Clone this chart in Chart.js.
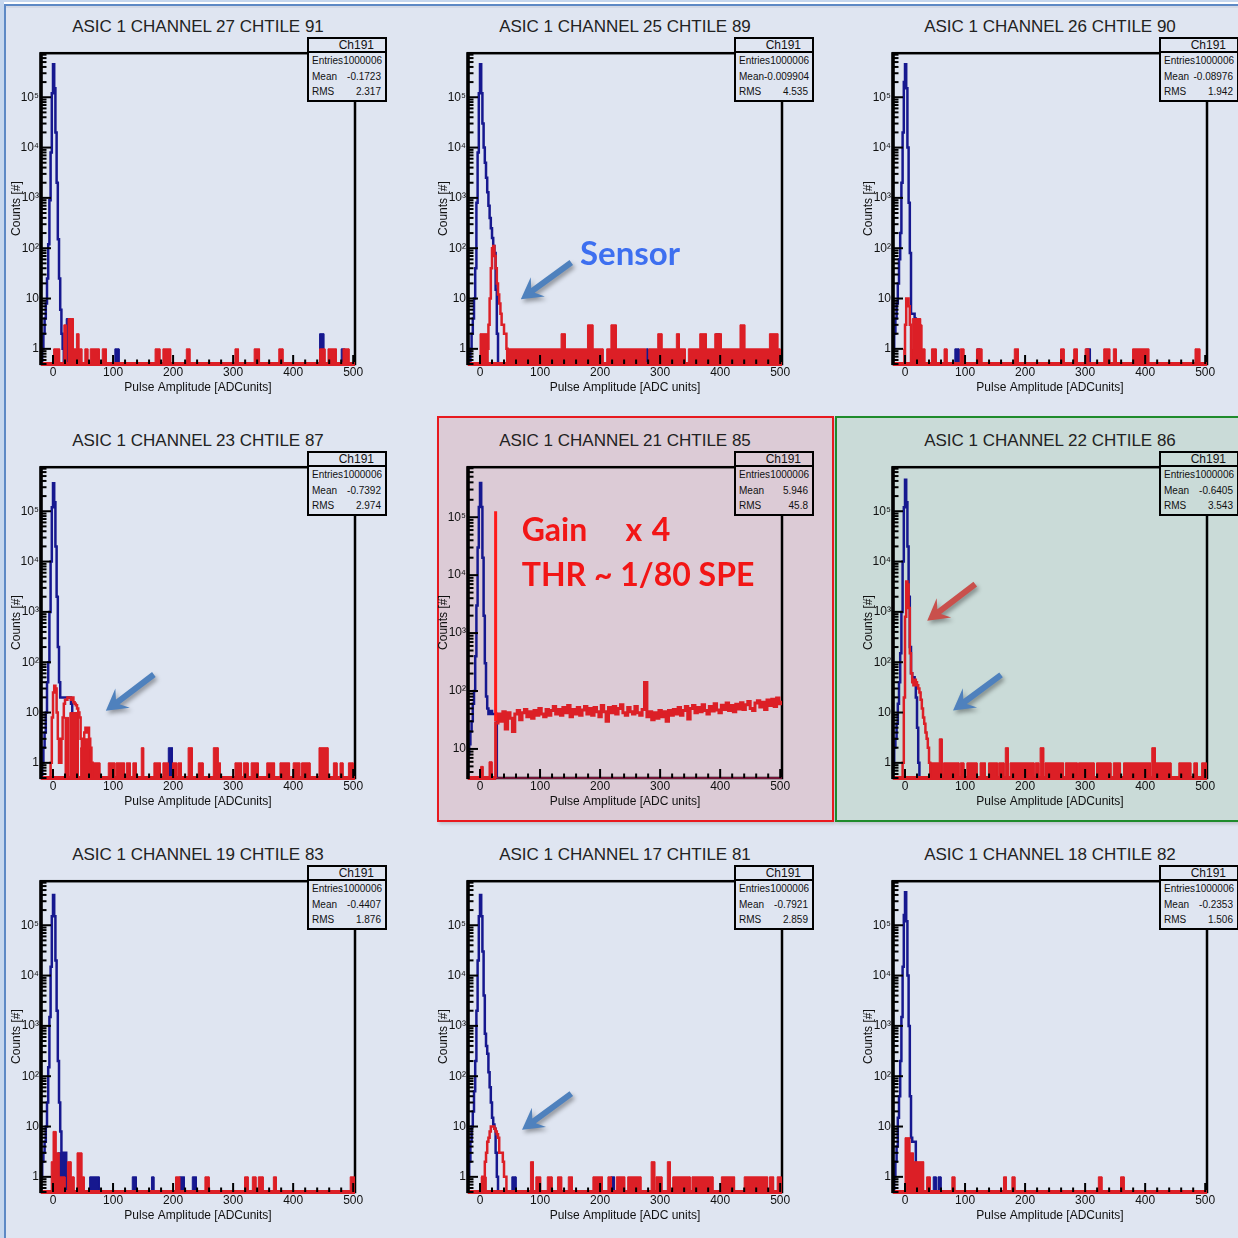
<!DOCTYPE html>
<html><head><meta charset="utf-8">
<script src="https://cdn.jsdelivr.net/npm/chart.js@4/dist/chart.umd.min.js"></script>
<style>
html,body{margin:0;padding:0}
body{width:1238px;height:1238px;position:relative;overflow:hidden;background:#dfe5f1;font-family:"Liberation Sans",Arial,Helvetica,sans-serif;color:#111}
.a{position:absolute}
.ptitle{position:absolute;font-size:17px;line-height:17px;white-space:nowrap;text-align:center;color:#222;width:360px}
.stat{position:absolute;box-sizing:border-box;border:2px solid #000;width:80px;height:65px}
.stat .hd{position:absolute;left:0;right:0;top:0;height:12px;border-bottom:2px solid #000;font-size:12px;line-height:13px;text-align:right;padding-right:11px}
.stat .row{position:absolute;left:3px;right:4px;height:14px;line-height:14px;font-size:10px;display:flex;justify-content:space-between;white-space:nowrap}
.note{position:absolute;font-family:Lato,"Open Sans",sans-serif;font-weight:700;white-space:pre;line-height:1}
canvas{position:absolute}
</style></head><body>
<div class="a" style="left:0;top:0;width:1238px;height:2px;background:#c6d7ee"></div>
<div class="a" style="left:0;top:2px;width:1238px;height:2px;background:#ffffff"></div>
<div class="a" style="left:0;top:4px;width:1238px;height:2px;background:#5d89c5"></div>
<div class="a" style="left:0;top:6px;width:1238px;height:2px;background:#d3d9e6"></div>
<div class="a" style="left:0;top:0;width:4px;height:1238px;background:#c6d7ee"></div>
<div class="a" style="left:4px;top:4px;width:2px;height:1234px;background:#5d89c5"></div>
<div class="a" style="left:437px;top:416px;width:397px;height:406px;box-sizing:border-box;border:2px solid #e8191f;background:#dccbd6;box-shadow:2px 2px 3px rgba(0,0,0,0.15)"></div>
<div class="a" style="left:835px;top:416px;width:420px;height:406px;box-sizing:border-box;border:2px solid #1f8b2c;background:#cadbd8;box-shadow:2px 2px 3px rgba(0,0,0,0.15)"></div>
<div id="root"></div>
<script>
// ---------------- data ----------------
const TITLES = ['ASIC 1 CHANNEL 27 CHTILE 91','ASIC 1 CHANNEL 25 CHTILE 89','ASIC 1 CHANNEL 26 CHTILE 90',
  'ASIC 1 CHANNEL 23 CHTILE 87','ASIC 1 CHANNEL 21 CHTILE 85','ASIC 1 CHANNEL 22 CHTILE 86',
  'ASIC 1 CHANNEL 19 CHTILE 83','ASIC 1 CHANNEL 17 CHTILE 81','ASIC 1 CHANNEL 18 CHTILE 82'];
const STAT_NAME = 'Ch191';
const ENTRIES = ['1000006','1000006','1000006','1000006','1000006','1000006','1000006','1000006','1000006'];
const MEANS = ['-0.1723','-0.009904','-0.08976','-0.7392','5.946','-0.6405','-0.4407','-0.7921','-0.2353'];
const RMS = ['2.317','4.535','1.942','2.974','45.8','3.543','1.876','2.859','1.506'];
const X_TITLES = ['Pulse Amplitude [ADCunits]','Pulse Amplitude [ADC units]','Pulse Amplitude [ADCunits]',
  'Pulse Amplitude [ADCunits]','Pulse Amplitude [ADC units]','Pulse Amplitude [ADCunits]',
  'Pulse Amplitude [ADCunits]','Pulse Amplitude [ADC units]','Pulse Amplitude [ADCunits]'];
const Y_TITLE = 'Counts [#]';
const X_TICKS = [0,100,200,300,400,500];
const Y_TICK_VALUES = [1,10,100,1000,10000,100000];
const Y_TICK_LABELS = ['1','10','10\u00B2','10\u00B3','10\u2074','10\u2075'];
const X_MIN = -20, X_MAX = 503;
const Y_MIN = [0.5,0.5,0.5,0.5,3.15,0.5,0.5,0.5,0.5];
const Y_MAX = [7.5e5,7.5e5,7.5e5,7.5e5,7.3e5,7.5e5,7.5e5,7.5e5,7.5e5];

// blue (pedestal) histograms, 2-unit bins
const BLUE_START = [-18,-18,-20,-18,-20,-20,-20,-20,-18];
const P1_BLUE = [1,2,4,8,25,120,900,8000,120000,450000,150000,20000,2000,150,25,6,2,1];
const P2_BLUE = [0,1,2,4,10,40,800,8000,120000,450000,120000,30000,10000,5000,2500,1300,700,400,250,160,110,80,15,2];
const P3_BLUE = [1,2,4,8,20,60,200,2000,20000,200000,450000,150000,10000,800,80,5,5,5,4,3,3,3,1];
const P4_BLUE = [1,2,4,10,40,100,1000,10000,120000,360000,150000,20000,2000,200,40,20,20,20,20,20,20,20,20,20,15,5,1];
const P5_BLUE = [8,12,20,30,60,100,400,3000,30000,150000,390000,150000,20000,2000,300,80,50,40,40,45,40,40,40,40];
const P6_BLUE = [1,2,3,6,15,40,150,1000,10000,120000,420000,150000,20000,2000,200,60,50,50,40,20,5,1];
const P7_BLUE = [1,2,3,5,10,30,150,1500,15000,150000,400000,150000,20000,2000,200,30,8,3,3,3,3,1];
const P8_BLUE = [1,2,5,10,20,50,200,2000,20000,150000,400000,150000,30000,4000,700,400,280,120,60,30,15,11,9,3,1];
const P9_BLUE = [1,2,4,15,40,200,1500,15000,160000,450000,120000,10000,1000,40,6,5,5,5,1];

// red (signal) histogram cores
const RED_START = [0,12,0,-4,26,-4,0,4,0];
const RED_WIDTH = [2,2,2,2,4,2,2,2,2];
const P1_RED = [];
const P2_RED = [1,3,10,40,100,110,70,40,20,12,8,5,3,3,2,2,1];
const P3_RED = [3,10,10,7,3];
const P4_RED = [1,8,25,34,30,10,3,1,1,3,8,15,18,18,20,20,20,18,20,16,15,14,12,10,8,3,2,2,4,5,4,5,3,2,1];
const P5_RED = [28,40,30,44,22,42,34,20,40,46,32,42,48,36,44,34,46,38,50,40,36,48,38,46,54,40,48,38,52,42,
  56,36,48,40,52,38,47,54,40,50,38,52,44,36,56,44,30,52,42,54,40,50,58,42,38,52,44,40,54,42,
  38,48,140,36,44,32,42,34,46,36,44,30,46,38,48,40,52,38,46,54,33,50,56,42,52,44,58,46,40,54,
  45,60,47,42,57,48,62,46,56,44,59,49,63,48,58,66,50,46,62,68,53,64,48,70,56,72,54,76,60,64];
const P6_RED = [1,20,800,4000,3500,1200,150,60,40,35,45,40,35,30,25,18,12,8,6,4,3,2,1];
const P7_RED = [];
const P8_RED = [1,1,2,3,5,6,8,10,10,10,9,8,7,6,3,3,3,2,1,1];
const P9_RED = [];

// sparse tails: [from, to, counts]
const P1_RED_TAIL = [[1,11,1],[18,22,3],[25,34,4],[34,39,1],[39,43,2],[43,48,1],[53,58,1],[62,77,1],[82,89,1],[170,178,1],[183,196,1],[222,228,1],[303,309,1],[335,344,1],[376,383,1],[444,453,1],[458,472,1],[483,493,1]];
const P2_RED_TAIL = [[0,13,2],[44,205,1],[135,142,2],[179,188,3],[211,276,1],[218,227,3],[281,342,1],[296,303,2],[327,332,2],[347,500,1],[366,377,2],[391,402,2],[433,441,3],[482,496,2]];
const P3_RED_TAIL = [[-2,0,1],[10,12,1],[12,26,4],[26,28,3],[28,33,1],[44,52,1],[65,70,1],[92,98,1],[119,128,1],[182,189,1],[259,265,1],[281,287,1],[300,306,1],[331,341,1],[347,352,1],[379,406,1],[483,491,1]];
const P4_RED_TAIL = [[20,26,8],[28,42,10],[46,52,2],[52,62,3],[62,66,1],[66,78,1],[92,103,1],[105,119,1],[122,129,1],[133,139,1],[147,151,2],[168,179,1],[183,192,1],[199,206,1],[208,214,1],[225,232,2],[242,250,1],[267,275,2],[275,279,1],[303,314,1],[317,325,1],[330,342,1],[356,369,1],[378,394,1],[400,411,1],[414,428,1],[443,458,2],[467,473,1],[478,483,1],[492,500,1]];
const P5_RED_TAIL = [[1,5,5],[15,20,6]];
const P6_RED_TAIL = [[42,60,1],[57,62,3],[64,90,1],[92,98,1],[103,120,1],[125,134,1],[139,154,1],[156,165,1],[167,172,2],[175,215,1],[217,223,1],[225,231,2],[233,264,1],[267,287,1],[289,315,1],[319,343,1],[347,359,1],[364,409,1],[411,417,2],[417,443,1],[456,476,1],[481,487,1],[494,502,1]];
const P7_RED_TAIL = [[-3,0,2],[0,5,8],[5,10,3],[10,20,1],[24,30,2],[30,35,1],[40,48,3],[48,52,1],[204,211,1],[253,260,1],[319,325,1],[332,338,1],[342,350,1],[367,372,1],[495,502,1]];
const P8_RED_TAIL = [[2,10,1],[84,89,2],[93,101,1],[112,120,1],[129,136,1],[147,154,1],[188,204,1],[213,219,1],[227,241,1],[246,268,1],[285,291,2],[293,303,1],[312,317,2],[321,350,1],[353,388,1],[402,424,1],[440,479,1],[482,489,1],[495,502,1]];
const P9_RED_TAIL = [[0,8,6],[8,14,3],[14,31,2],[36,42,1],[78,83,1],[164,169,1],[178,183,1],[322,328,1],[359,365,1]];

const P1_BLUE_TAIL = [[22,29,4],[103,110,1],[444,451,2],[480,486,1]];
const P2_BLUE_TAIL = [[277,280,1],[393,399,2]];
const P3_BLUE_TAIL = [[83,90,1],[120,125,1],[302,309,1]];
const P4_BLUE_TAIL = [[192,199,2]];
const P5_BLUE_TAIL = [];
const P6_BLUE_TAIL = [];
const P7_BLUE_TAIL = [[8,22,3],[61,77,1],[132,139,1],[164,168,1],[211,219,1],[232,239,1]];
const P8_BLUE_TAIL = [[53,60,1],[218,224,1]];
const P9_BLUE_TAIL = [[47,52,1],[55,60,1]];

const BASE_END = [503,503,503,503,27,503,503,503,503];
const THR_PANEL = 4, THR_X = 26, THR_LOW = 30, THR_HIGH = 1.27e5;

// arrows (data coordinates)
const ARROW_PANEL = [1,3,5,5,7];
const ARROW_FROM_X = [152,168,117,160,152];
const ARROW_FROM_Y = [52,57,3560,56,45];
const ARROW_TO_X = [68,88,37,80,70];
const ARROW_TO_Y = [9.7,10.8,670,11,8.6];
const ARROW_COLOR = ['#4f81bd','#4f81bd','#c9504c','#4f81bd','#4f81bd'];

// ---------------- layout / style ----------------
const COL_LEFT = [41,468,893];
const ROW_TOP = [52,466,880];
const FRAME_W = 314, FRAME_H = 312;
const AXIS_W = 40, PAD_TOP = 8, PAD_RIGHT = 24, XAXIS_H = 32;
const PAGE_BG = '#dfe5f1';
const PANEL_BG = [PAGE_BG,PAGE_BG,PAGE_BG,PAGE_BG,'#dccbd6','#cadbd8',PAGE_BG,PAGE_BG,PAGE_BG];
const BLUE = '#16188f', RED = '#dc1f26';
const FONT = '"Liberation Sans", Arial, Helvetica, sans-serif';
Chart.defaults.font.family = FONT;

const BLUE_CORES = [P1_BLUE,P2_BLUE,P3_BLUE,P4_BLUE,P5_BLUE,P6_BLUE,P7_BLUE,P8_BLUE,P9_BLUE];
const RED_CORES = [P1_RED,P2_RED,P3_RED,P4_RED,P5_RED,P6_RED,P7_RED,P8_RED,P9_RED];
const RED_TAILS = [P1_RED_TAIL,P2_RED_TAIL,P3_RED_TAIL,P4_RED_TAIL,P5_RED_TAIL,P6_RED_TAIL,P7_RED_TAIL,P8_RED_TAIL,P9_RED_TAIL];
const BLUE_TAILS = [P1_BLUE_TAIL,P2_BLUE_TAIL,P3_BLUE_TAIL,P4_BLUE_TAIL,P5_BLUE_TAIL,P6_BLUE_TAIL,P7_BLUE_TAIL,P8_BLUE_TAIL,P9_BLUE_TAIL];

function coreSteps(start, w, counts, floor) {
  if (!counts.length) return [];
  const pts = [{x:start, y:floor}];
  counts.forEach((c,i) => {
    const x0 = start + i*w, x1 = x0 + w, v = c > floor ? c : floor;
    pts.push({x:x0, y:v}, {x:x1, y:v});
  });
  pts.push({x:start + counts.length*w, y:floor});
  return pts;
}
function blockSteps(blocks, floor, xmin, xmax) {
  const n = xmax - xmin, arr = new Array(n).fill(0);
  blocks.forEach(([a,b,c]) => {
    for (let x = Math.max(a,xmin); x < Math.min(b,xmax); x++) arr[x-xmin] = Math.max(arr[x-xmin], c);
  });
  const pts = []; let cur = null;
  for (let i = 0; i < n; i++) {
    const v = Math.max(arr[i], floor);
    if (v !== cur) { if (cur !== null) pts.push({x:xmin+i, y:cur}); pts.push({x:xmin+i, y:v}); cur = v; }
  }
  pts.push({x:xmax, y:cur});
  return pts;
}
function drawArrow(ctx, x1, y1, x2, y2, color) {
  const dx = x2-x1, dy = y2-y1, L = Math.hypot(dx,dy), ux = dx/L, uy = dy/L, nx = -uy, ny = ux;
  const hl = 21, hw = 12, notch = 6;
  ctx.save();
  ctx.shadowColor = 'rgba(0,0,0,0.35)'; ctx.shadowBlur = 4; ctx.shadowOffsetX = 2; ctx.shadowOffsetY = 3;
  ctx.strokeStyle = color; ctx.fillStyle = color; ctx.lineWidth = 6; ctx.lineCap = 'butt';
  ctx.beginPath();
  ctx.moveTo(x2,y2);
  ctx.lineTo(x2-ux*hl+nx*hw, y2-uy*hl+ny*hw);
  ctx.lineTo(x2-ux*(hl-notch)+nx*3, y2-uy*(hl-notch)+ny*3);
  ctx.lineTo(x1+nx*3, y1+ny*3);
  ctx.lineTo(x1-nx*3, y1-ny*3);
  ctx.lineTo(x2-ux*(hl-notch)-nx*3, y2-uy*(hl-notch)-ny*3);
  ctx.lineTo(x2-ux*hl-nx*hw, y2-uy*hl-ny*hw);
  ctx.closePath(); ctx.fill();
  ctx.restore();
}
function line(ctx, x1, y1, x2, y2) { ctx.beginPath(); ctx.moveTo(x1,y1); ctx.lineTo(x2,y2); ctx.stroke(); }

function makeFramePlugin(i) {
  return {
    id: 'rootFrame' + i,
    beforeDatasetsDraw(chart) {
      const {ctx, chartArea: a} = chart;
      ctx.save(); ctx.strokeStyle = '#000'; ctx.lineWidth = 2.5;
      ctx.strokeRect(a.left, a.top, a.right - a.left, a.bottom - a.top);
      ctx.restore();
    },
    afterDatasetsDraw(chart) {
      const {ctx, chartArea: a, scales: {x, y}} = chart;
      ctx.save(); ctx.strokeStyle = '#000'; ctx.lineWidth = 2; ctx.lineCap = 'butt';
      for (let v = -20; v <= x.max; v += 20) {
        const px = x.getPixelForValue(v);
        line(ctx, px, a.bottom, px, a.bottom - (v % 100 === 0 ? 9 : 4.5));
      }
      for (let d = -1; d <= 6; d++) {
        for (let m = 1; m <= 9; m++) {
          const v = m * Math.pow(10, d);
          if (v < y.min || v > y.max) continue;
          const py = y.getPixelForValue(v);
          line(ctx, a.left, py, a.left + (m === 1 ? 10 : 5.5), py);
        }
      }
      ctx.lineWidth = 3.5; line(ctx, a.left, a.top - 1, a.left, a.bottom + 1);
      ctx.restore();
    },
    afterDraw(chart) {
      const {ctx, scales: {x, y}} = chart;
      ARROW_PANEL.forEach((p, k) => {
        if (p !== i) return;
        drawArrow(ctx, x.getPixelForValue(ARROW_FROM_X[k]), y.getPixelForValue(ARROW_FROM_Y[k]),
          x.getPixelForValue(ARROW_TO_X[k]), y.getPixelForValue(ARROW_TO_Y[k]), ARROW_COLOR[k]);
      });
    }
  };
}

const root = document.getElementById('root');
for (let i = 0; i < 9; i++) {
  const r = Math.floor(i/3), c = i % 3;
  const fl = COL_LEFT[c], ft = ROW_TOP[r];
  const floor = Y_MIN[i];
  const t = document.createElement('div');
  t.className = 'ptitle'; t.textContent = TITLES[i];
  t.style.left = (fl + FRAME_W/2 - 180) + 'px'; t.style.top = (ft - 34.4) + 'px';
  root.appendChild(t);
  const cv = document.createElement('canvas');
  const W = AXIS_W + FRAME_W + PAD_RIGHT, H = PAD_TOP + FRAME_H + XAXIS_H;
  cv.width = W; cv.height = H;
  cv.style.left = (fl - AXIS_W) + 'px'; cv.style.top = (ft - PAD_TOP) + 'px';
  cv.style.width = W + 'px'; cv.style.height = H + 'px';
  root.appendChild(cv);

  const clip = {left: 0, top: 0, right: 0, bottom: 3};
  const datasets = [];
  datasets.push({data: blockSteps(BLUE_TAILS[i], floor, X_MIN, X_MAX), borderColor: BLUE, backgroundColor: BLUE,
    borderWidth: 1, fill: 'start', order: 4, clip});
  datasets.push({data: coreSteps(BLUE_START[i], 2, BLUE_CORES[i], floor), borderColor: BLUE,
    borderWidth: 2.5, fill: false, order: 3, clip});
  datasets.push({data: [{x: X_MIN, y: floor}, {x: BASE_END[i], y: floor}], borderColor: RED,
    borderWidth: 4, fill: false, order: 2, clip});
  datasets.push({data: blockSteps(RED_TAILS[i], floor, X_MIN, X_MAX), borderColor: RED, backgroundColor: RED,
    borderWidth: 1, fill: 'start', order: 2, clip});
  datasets.push({data: coreSteps(RED_START[i], RED_WIDTH[i], RED_CORES[i], floor), borderColor: RED,
    borderWidth: RED_WIDTH[i] === 4 ? 3 : 2.5, fill: false, order: 1, clip});
  if (i === THR_PANEL) {
    datasets.push({data: [{x: THR_X, y: THR_LOW}, {x: THR_X, y: THR_HIGH}], borderColor: '#ff1a1a',
      borderWidth: 3, fill: false, order: 0, clip});
  }
  datasets.forEach(d => { d.pointRadius = 0; d.tension = 0; d.borderJoinStyle = 'miter'; d.borderCapStyle = 'butt'; });

  new Chart(cv, {
    type: 'line',
    data: {datasets},
    options: {
      responsive: false, animation: false, devicePixelRatio: 1, events: [],
      layout: {padding: {left: 0, top: PAD_TOP, right: PAD_RIGHT, bottom: 0}},
      plugins: {legend: {display: false}, tooltip: {enabled: false}, title: {display: false}},
      scales: {
        x: {
          type: 'linear', min: X_MIN, max: X_MAX, bounds: 'data',
          afterBuildTicks: s => { s.ticks = X_TICKS.map(v => ({value: v})); },
          afterFit: s => { s.height = XAXIS_H; },
          grid: {display: false, drawTicks: false}, border: {display: false},
          ticks: {font: {size: 12, family: FONT}, color: '#111', padding: 1, maxRotation: 0, autoSkip: false,
            callback: v => String(v)},
          title: {display: true, text: X_TITLES[i], font: {size: 12, family: FONT}, color: '#111',
            padding: {top: 0, bottom: 1.4}}
        },
        y: {
          type: 'logarithmic', min: Y_MIN[i], max: Y_MAX[i], bounds: 'data',
          afterBuildTicks: s => { s.ticks = Y_TICK_VALUES.filter(v => v >= s.min && v <= s.max).map(v => ({value: v})); },
          afterFit: s => { s.width = AXIS_W; },
          grid: {display: false, drawTicks: false}, border: {display: false},
          ticks: {font: {size: 12, family: FONT}, color: '#111', padding: 2, autoSkip: false,
            callback: v => { const k = Y_TICK_VALUES.indexOf(v); return k >= 0 ? Y_TICK_LABELS[k] : ''; }},
          title: {display: true, text: Y_TITLE, font: {size: 12, family: FONT}, color: '#111',
            padding: {top: 8, bottom: 0}}
        }
      }
    },
    plugins: [makeFramePlugin(i)]
  });

  const R = fl + FRAME_W;
  const box = document.createElement('div');
  box.className = 'stat';
  box.style.left = (R - 48) + 'px'; box.style.top = (ft - 15) + 'px'; box.style.background = PANEL_BG[i];
  box.innerHTML = '<div class="hd">' + STAT_NAME + '</div>' +
    '<div class="row" style="top:15px"><span>Entries</span><span>' + ENTRIES[i] + '</span></div>' +
    '<div class="row" style="top:31px"><span>Mean</span><span>' + MEANS[i] + '</span></div>' +
    '<div class="row" style="top:46px"><span>RMS</span><span>' + RMS[i] + '</span></div>';
  root.appendChild(box);
}

function note(text, left, top, size, color, extra) {
  const d = document.createElement('div');
  d.className = 'note'; d.textContent = text;
  d.style.left = left + 'px'; d.style.top = top + 'px'; d.style.fontSize = size + 'px'; d.style.color = color;
  if (extra) Object.assign(d.style, extra);
  root.appendChild(d);
}
note('Sensor', 580, 236.4, 33, '#3d6ff0');
note('Gain    x 4', 521.7, 513.3, 32, '#f21616', {wordSpacing: '1.8px'});
note('THR ~ 1/80 SPE', 521.7, 557.6, 32, '#f21616');
</script>
</body></html>
